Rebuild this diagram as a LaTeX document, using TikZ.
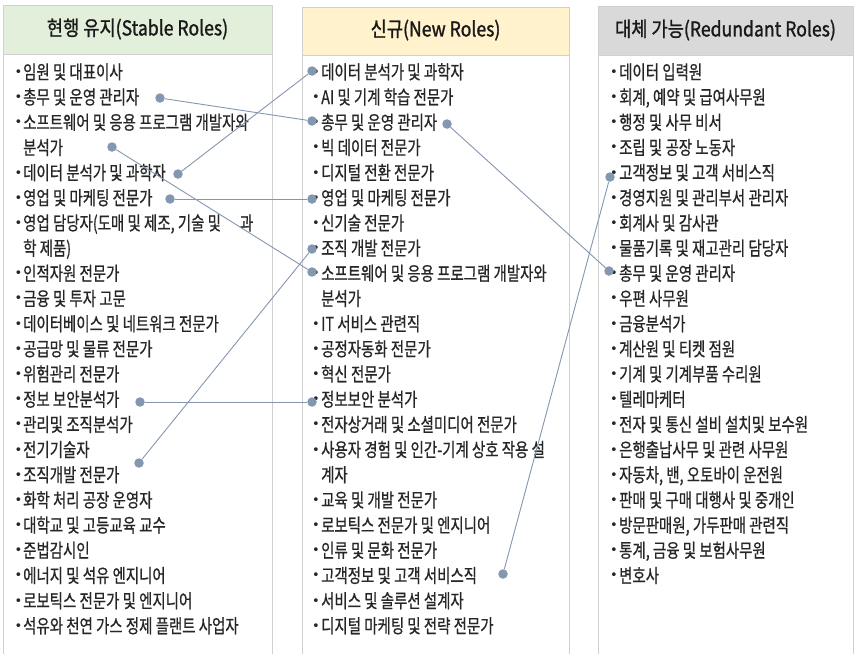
\documentclass[tikz,border=0pt]{standalone}
\usepackage{fontspec}
\setmainfont{Noto Sans CJK KR}
\newfontfamily\itemfont{Noto Sans CJK KR}[FakeStretch=0.76,FakeBold=0.6]
\newfontfamily\headfont{Noto Sans CJK KR}[FakeStretch=0.86,FakeBold=1.2]
\newfontfamily\bulfont{DejaVu Sans}
\definecolor{txtcol}{HTML}{262626}
\definecolor{conncol}{HTML}{8497B0}
\definecolor{bordercol}{HTML}{D0D0D0}
\definecolor{greenhead}{HTML}{E2EFDA}
\definecolor{yellowhead}{HTML}{FFF2CC}
\definecolor{grayhead}{HTML}{D9D9D9}
\begin{document}
\begin{tikzpicture}[x=1pt,y=-1pt,
  item/.style={anchor=base west, inner sep=0pt, font=\itemfont\fontsize{19}{22}\selectfont, text=txtcol},
  bul/.style={anchor=center, inner sep=0pt, font=\bulfont\fontsize{13}{15}\selectfont, text=txtcol},
  head/.style={anchor=center, inner sep=0pt, font=\headfont\fontsize{20.5}{23}\selectfont, text=black!90},
  headbox/.style={draw=bordercol, line width=0.8pt},
  side/.style={draw=bordercol, line width=0.8pt},
  dot/.style={circle, fill=conncol, inner sep=0pt, minimum size=9.5pt},
  link/.style={draw=conncol, line width=0.9pt}]
\useasboundingbox (0,0) rectangle (860,654);
\fill[white] (0,0) rectangle (860,654);
% boxes
\draw[side] (3,5) -- (3,654);
\draw[side] (272,5) -- (272,654);
\draw[side] (302,7) -- (302,654);
\draw[side] (569,7) -- (569,654);
\draw[side] (598,6) -- (598,654);
\draw[side] (853,6) -- (853,654);
\filldraw[headbox, fill=greenhead] (3,5) rectangle (272,54);
\filldraw[headbox, fill=yellowhead] (302,7) rectangle (569,55);
\filldraw[headbox, fill=grayhead] (598,6) rectangle (853,55);
\node[head] (hl) at (137.5,29) {현행 유지(Stable Roles)};
\node[head] (hm) at (435.5,30) {신규(New Roles)};
\node[head] (hr) at (725.5,30) {대체 가능(Redundant Roles)};
% left column
\foreach \r/\b/\t in {
 0/1/{임원 및 대표이사},
 1/1/{총무 및 운영 관리자},
 2/1/{소프트웨어 및 응용 프로그램 개발자와},
 3/0/{분석가},
 4/1/{데이터 분석가 및 과학자},
 5/1/{영업 및 마케팅 전문가},
 6/1/{영업 담당자(도매 및 제조, 기술 및\hspace{1em}과},
 7/0/{학 제품)},
 8/1/{인적자원 전문가},
 9/1/{금융 및 투자 고문},
 10/1/{데이터베이스 및 네트워크 전문가},
 11/1/{공급망 및 물류 전문가},
 12/1/{위험관리 전문가},
 13/1/{정보 보안분석가},
 14/1/{관리및 조직분석가},
 15/1/{전기기술자},
 16/1/{조직개발 전문가},
 17/1/{화학 처리 공장 운영자},
 18/1/{대학교 및 고등교육 교수},
 19/1/{준법감시인},
 20/1/{에너지 및 석유 엔지니어},
 21/1/{로보틱스 전문가 및 엔지니어},
 22/1/{석유와 천연 가스 정제 플랜트 사업자}} {
  \node[item] (l\r) at (23,{79+25.18*\r}) {\t};
  \ifnum\b=1 \node[bul] (lb\r) at (18.5,{73+25.18*\r}) {•};\fi
}
% middle column
\foreach \r/\b/\t in {
 0/1/{데이터 분석가 및 과학자},
 1/1/{AI 및 기계 학습 전문가},
 2/1/{총무 및 운영 관리자},
 3/1/{빅 데이터 전문가},
 4/1/{디지털 전환 전문가},
 5/1/{영업 및 마케팅 전문가},
 6/1/{신기술 전문가},
 7/1/{조직 개발 전문가},
 8/1/{소프트웨어 및 응용 프로그램 개발자와},
 9/0/{분석가},
 10/1/{IT 서비스 관련직},
 11/1/{공정자동화 전문가},
 12/1/{혁신 전문가},
 13/1/{정보보안 분석가},
 14/1/{전자상거래 및 소셜미디어 전문가},
 15/1/{사용자 경험 및 인간-기계 상호 작용 설},
 16/0/{계자},
 17/1/{교육 및 개발 전문가},
 18/1/{로보틱스 전문가 및 엔지니어},
 19/1/{인류 및 문화 전문가},
 20/1/{고객정보 및 고객 서비스직},
 21/1/{서비스 및 솔루션 설계자},
 22/1/{디지털 마케팅 및 전략 전문가}} {
  \node[item] (m\r) at (321,{79+25.18*\r}) {\t};
  \ifnum\b=1 \node[bul] (mb\r) at (316,{73+25.18*\r}) {•};\fi
}
% right column
\foreach \r/\t in {
 0/{데이터 입력원},
 1/{회계, 예약 및 급여사무원},
 2/{행정 및 사무 비서},
 3/{조립 및 공장 노동자},
 4/{고객정보 및 고객 서비스직},
 5/{경영지원 및 관리부서 관리자},
 6/{회계사 및 감사관},
 7/{물품기록 및 재고관리 담당자},
 8/{총무 및 운영 관리자},
 9/{우편 사무원},
 10/{금융분석가},
 11/{계산원 및 티켓 점원},
 12/{기계 및 기계부품 수리원},
 13/{텔레마케터},
 14/{전자 및 통신 설비 설치및 보수원},
 15/{은행출납사무 및 관련 사무원},
 16/{자동차, 밴, 오토바이 운전원},
 17/{판매 및 구매 대행사 및 중개인},
 18/{방문판매원, 가두판매 관련직},
 19/{통계, 금융 및 보험사무원},
 20/{변호사}} {
  \node[item] (r\r) at (619,{79+25.18*\r}) {\t};
  \node[bul] (rb\r) at (614,{73+25.18*\r}) {•};
}
% connector dots
\node[dot] (dL1) at (160,98) {};
\node[dot] (dM2) at (312,121) {};
\node[dot] (dL4) at (178,174) {};
\node[dot] (dM0) at (312,71) {};
\node[dot] (dL3) at (112,147) {};
\node[dot] (dM8) at (312,272) {};
\node[dot] (dL5) at (170,199) {};
\node[dot] (dM5) at (312,199) {};
\node[dot] (dL13) at (140,402) {};
\node[dot] (dM13) at (312,402) {};
\node[dot] (dL16) at (139,463) {};
\node[dot] (dM7) at (312,249) {};
\node[dot] (dM2b) at (447,124) {};
\node[dot] (dR8) at (609,271) {};
\node[dot] (dM20) at (503,574) {};
\node[dot] (dR4) at (610,177) {};
% connectors
\draw[link] (dL1) -- (dM2);
\draw[link] (dL4) -- (dM0);
\draw[link] (dL3) -- (dM8);
\draw[link] (dL5) -- (dM5);
\draw[link] (dL13) -- (dM13);
\draw[link] (dL16) -- (dM7);
\draw[link] (dM2b) -- (dR8);
\draw[link] (dM20) -- (dR4);
\end{tikzpicture}
\end{document}
